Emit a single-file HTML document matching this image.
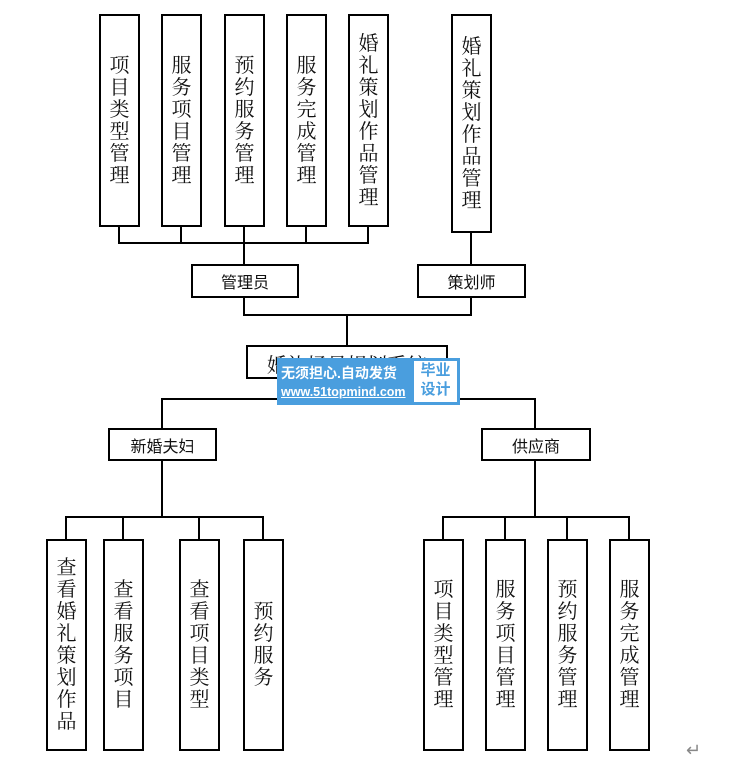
<!DOCTYPE html>
<html><head><meta charset="utf-8"><style>
body{margin:0;width:738px;height:765px;background:#fff;position:relative;overflow:hidden;font-family:"Liberation Serif","Noto Serif CJK SC",serif;}
.v{position:absolute;box-sizing:border-box;border:2px solid #000;background:#fff;display:flex;align-items:center;justify-content:center;}
.v span{display:block;width:21px;font-size:20px;line-height:22px;text-align:center;word-break:break-all;color:#111}
.h{position:absolute;box-sizing:border-box;border:2px solid #000;background:#fff;display:flex;align-items:center;justify-content:center;font-family:"Liberation Sans","Noto Sans CJK SC",sans-serif;font-size:16px;color:#111}
svg{position:absolute;left:0;top:0}
.wm{position:absolute;left:277px;top:358px;width:183px;height:47px;background:#4a9ede;}
</style></head><body>
<svg width="738" height="765" stroke="#000" stroke-width="2" fill="none">
<path d="M119 226V243H368V226M181 226V243M244 226V264M306 226V243"/>
<path d="M471 232V264"/>
<path d="M244 297V315H471V297M347 315V345"/>
<path d="M347 378V399M162 428V399H535V428"/>
<path d="M162 460V517M66 539V517H263V539M123 517V539M199 517V539"/>
<path d="M535 460V517M443 539V517H629V539M505 517V539M567 517V539"/>
</svg>
<div class="v" style="left:99px;top:14px;width:41px;height:213px"><span>项目类型管理</span></div>
<div class="v" style="left:161px;top:14px;width:41px;height:213px"><span>服务项目管理</span></div>
<div class="v" style="left:224px;top:14px;width:41px;height:213px"><span>预约服务管理</span></div>
<div class="v" style="left:286px;top:14px;width:41px;height:213px"><span>服务完成管理</span></div>
<div class="v" style="left:348px;top:14px;width:41px;height:213px"><span>婚礼策划作品管理</span></div>
<div class="v" style="left:451px;top:14px;width:41px;height:219px"><span>婚礼策划作品管理</span></div>
<div class="h" style="left:191px;top:264px;width:108px;height:34px">管理员</div>
<div class="h" style="left:417px;top:264px;width:109px;height:34px">策划师</div>
<div class="h" style="left:246px;top:345px;width:202px;height:34px;font-family:'Liberation Serif','Noto Serif CJK SC',serif;font-size:20px;align-items:flex-start;padding-top:2px">婚礼场景规划系统</div>
<div class="wm"><div style="position:absolute;left:4px;top:5px;color:#fff;font-family:'Liberation Sans','Noto Sans CJK SC',sans-serif;font-size:14px;font-weight:bold">无须担心.自动发货</div><div style="position:absolute;left:4px;top:27px;color:#fff;font-family:'Liberation Sans',sans-serif;font-size:12.5px;font-weight:bold;text-decoration:underline">www.51topmind.com</div><div style="position:absolute;left:137px;top:3px;width:43px;height:41px;background:#fff;color:#4a9ede;font-family:'Liberation Sans','Noto Sans CJK SC',sans-serif;font-size:15px;line-height:19px;text-align:center;font-weight:bold">毕业<br>设计</div></div>
<div class="h" style="left:108px;top:428px;width:109px;height:33px">新婚夫妇</div>
<div class="h" style="left:481px;top:428px;width:110px;height:33px">供应商</div>
<div class="v" style="left:46px;top:539px;width:41px;height:212px"><span>查看婚礼策划作品</span></div>
<div class="v" style="left:103px;top:539px;width:41px;height:212px"><span>查看服务项目</span></div>
<div class="v" style="left:179px;top:539px;width:41px;height:212px"><span>查看项目类型</span></div>
<div class="v" style="left:243px;top:539px;width:41px;height:212px"><span>预约服务</span></div>
<div class="v" style="left:423px;top:539px;width:41px;height:212px"><span>项目类型管理</span></div>
<div class="v" style="left:485px;top:539px;width:41px;height:212px"><span>服务项目管理</span></div>
<div class="v" style="left:547px;top:539px;width:41px;height:212px"><span>预约服务管理</span></div>
<div class="v" style="left:609px;top:539px;width:41px;height:212px"><span>服务完成管理</span></div>
<div style="position:absolute;left:686px;top:740px;font-size:18px;color:#888">↵</div>
</body></html>
